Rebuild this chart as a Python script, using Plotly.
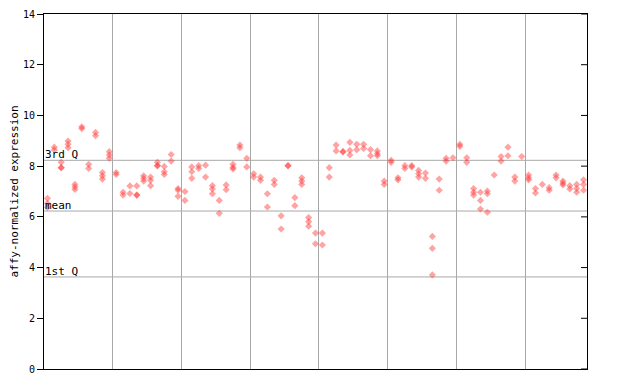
import plotly.graph_objects as go

# expression values per sample (replicates), samples left to right
samples = [
    [6.73, 6.53, 6.37], [8.75, 8.64], [8.15, 7.94, 7.94], [8.99, 8.86, 8.73], [7.28, 7.18, 7.08],
    [9.55, 9.48], [8.07, 7.91], [9.33, 9.20], [7.75, 7.62, 7.49], [8.57, 8.44, 8.31],
    [7.75, 7.67], [6.97, 6.86], [7.22, 6.92], [7.22, 6.86, 6.86], [7.62, 7.52, 7.41],
    [7.57, 7.44, 7.23], [8.15, 8.02, 8.02], [7.99, 7.78, 7.67], [8.46, 8.20], [7.12, 7.05, 6.81],
    [7.00, 6.65], [7.97, 7.78, 7.52], [8.02, 7.91], [8.04, 7.57], [7.23, 7.10, 6.91],
    [6.65, 6.14], [7.26, 7.07], [8.07, 7.95, 7.89], [8.83, 8.73], [8.31, 7.97],
    [7.70, 7.57], [7.57, 7.44], [6.91, 6.39], [7.44, 7.28], [6.04, 5.52],
    [8.02, 8.02], [6.76, 6.44], [7.54, 7.41, 7.28], [5.97, 5.81, 5.63], [5.36, 4.94],
    [5.36, 4.89], [7.94, 7.57], [8.83, 8.60], [8.57, 8.57], [8.94, 8.62, 8.44],
    [8.86, 8.65], [8.86, 8.70], [8.65, 8.41], [8.60, 8.49, 8.41], [7.41, 7.28],
    [8.23, 8.15], [7.54, 7.46], [8.02, 7.91], [8.02, 7.97], [7.83, 7.70, 7.57],
    [7.73, 7.52], [5.23, 4.76, 3.71], [7.49, 7.05], [8.31, 8.20], [8.33],
    [8.86, 8.78], [8.33, 8.15], [7.12, 6.97, 6.86], [6.97, 6.65, 6.31], [7.02, 6.91, 6.18],
    [7.65], [8.38, 8.20], [8.75, 8.41], [7.57, 7.41], [8.38],
    [7.65, 7.54, 7.46], [7.12, 6.94], [7.28], [7.15, 7.05], [7.65, 7.54],
    [7.41, 7.33, 7.26], [7.23, 7.10], [7.28, 7.12, 6.97], [7.46, 7.28, 7.05],
]

q_values = [3.63, 6.23, 8.23]
q_labels = ["1st Q", "mean", "3rd Q"]
y_ticks = [0, 2, 4, 6, 8, 10, 12, 14]
group_bounds = [10, 20, 30, 40, 50, 60, 70]

xs, ys = [], []
for i, vals in enumerate(samples):
    for v in vals:
        xs.append(i + 0.5)
        ys.append(v)

n = len(samples)
mono = "DejaVu Sans Mono"

fig = go.Figure()
fig.add_trace(go.Scatter(
    x=xs, y=ys, mode="markers",
    marker=dict(symbol="diamond", size=5.5, color="rgba(255,50,50,0.45)", line=dict(width=0)),
    hoverinfo="y", showlegend=False,
))

shapes = []
for q in q_values:
    shapes.append(dict(type="line", xref="paper", yref="y", x0=0, x1=1, y0=q, y1=q,
                       line=dict(color="#a8a8a8", width=1), layer="below"))
for t in y_ticks:
    shapes.append(dict(type="line", xref="paper", yref="y", x0=1 - 0.011, x1=1, y0=t, y1=t,
                       line=dict(color="black", width=1)))

annotations = []
for q, lab in zip(q_values, q_labels):
    annotations.append(dict(x=0, y=q, xref="paper", yref="y", text=lab, showarrow=False,
                            xanchor="left", yanchor="bottom", xshift=-1, yshift=-3,
                            font=dict(family=mono, size=11, color="black")))

# the page adds an 8px body margin, so the figure is sized to fit inside the window
fig.update_layout(
    width=632, height=376,
    margin=dict(l=36, r=53, t=6, b=15, autoexpand=False),
    paper_bgcolor="white", plot_bgcolor="white",
    shapes=shapes, annotations=annotations,
    xaxis=dict(range=[0, n], tickvals=group_bounds, showticklabels=False, ticks="",
               showgrid=True, gridcolor="#a8a8a8", gridwidth=1, zeroline=False,
               showline=True, linecolor="black", linewidth=1, mirror=True, automargin=False),
    yaxis=dict(range=[0, 14], tickvals=y_ticks, ticks="outside", ticklen=6, tickcolor="black",
               showgrid=False, zeroline=False, showline=True, linecolor="black", linewidth=1,
               mirror=True, automargin=False, tickfont=dict(family=mono, size=10, color="black"),
               title=dict(text="affy-normalized expression", standoff=3,
                          font=dict(family=mono, size=11, color="black"))),
)

fig.write_html("out.html")
